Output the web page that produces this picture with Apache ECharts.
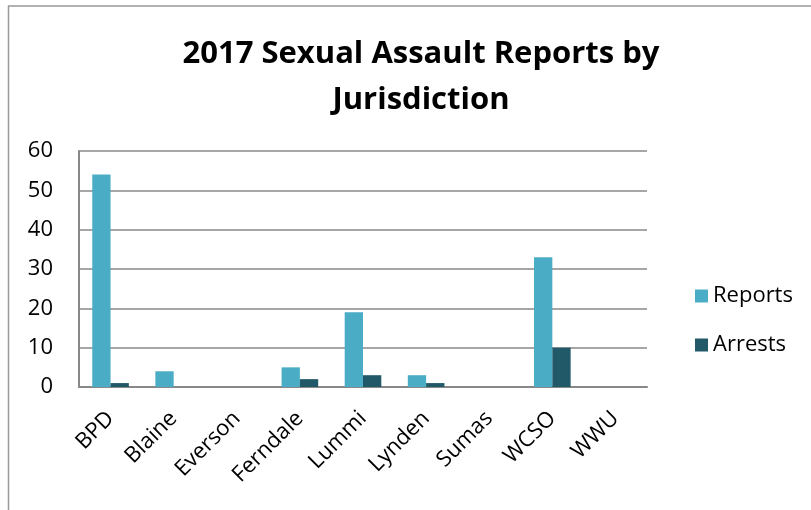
<!DOCTYPE html>
<html><head><meta charset="utf-8">
<script src="https://cdn.jsdelivr.net/npm/echarts@6/dist/echarts.min.js"></script>
<style>html,body{margin:0;padding:0;background:#fff}#c{width:811px;height:510px}</style>
</head><body><div id="c"></div>
<script>
const categories = ["BPD","Blaine","Everson","Ferndale","Lummi","Lynden","Sumas","WCSO","WWU"];
const reports = [54,4,0,5,19,3,0,33,0];
const arrests = [1,0,0,2,3,1,0,10,0];
const yTicks = [0,10,20,30,40,50,60];
const FONT = "'Open Sans', 'Noto Sans', sans-serif";
const chart = echarts.init(document.getElementById('c'));
chart.setOption({
  animation:false,
  title:{text:"2017 Sexual Assault Reports by\nJurisdiction",left:416,textAlign:'center',top:26,
    textStyle:{fontFamily:FONT,fontSize:31,fontWeight:'bold',color:'#000',lineHeight:46}},
  graphic:[{type:'rect',shape:{x:8.5,y:6,width:820,height:520},style:{fill:'none',stroke:'#999',lineWidth:1.5},silent:true}],
  legend:{orient:'vertical',left:690,top:278,itemGap:23,itemWidth:13,itemHeight:13,icon:'rect',
    textStyle:{fontFamily:FONT,fontSize:22,color:'#000',lineHeight:26},data:['Reports','Arrests']},
  grid:{left:79,top:151,width:568,height:236},
  xAxis:{type:'category',data:categories,
    axisLine:{lineStyle:{color:'#888',width:2}},axisTick:{show:false},
    axisLabel:{rotate:45,fontFamily:FONT,fontSize:22,color:'#000',margin:28,interval:0}},
  yAxis:{type:'value',min:0,max:60,interval:10,
    axisLine:{show:true,lineStyle:{color:'#888',width:2}},axisTick:{show:false},
    splitLine:{lineStyle:{color:'#888',width:1.5}},
    axisLabel:{fontFamily:FONT,fontSize:22,color:'#000',margin:26,
      formatter:v=>yTicks.includes(v)?String(v):''}},
  series:[
    {name:'Reports',type:'bar',data:reports,barGap:'0%',barCategoryGap:'42%',itemStyle:{color:'#4BACC6'}},
    {name:'Arrests',type:'bar',data:arrests,itemStyle:{color:'#215968'}}
  ]
});
</script></body></html>
